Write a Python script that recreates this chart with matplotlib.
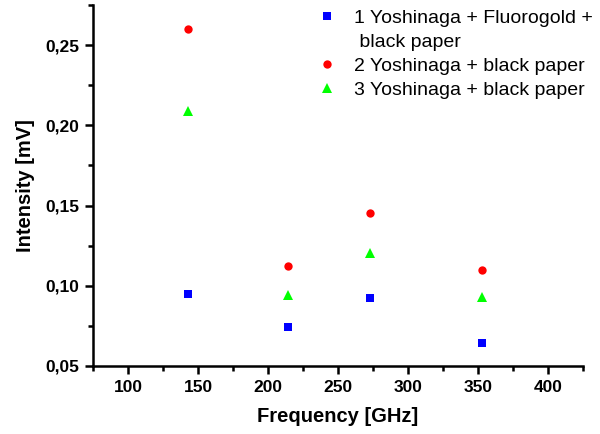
import matplotlib
matplotlib.use("Agg")
import matplotlib.pyplot as plt
from matplotlib.ticker import MultipleLocator, FuncFormatter

freq = [143, 214, 273, 353]
s1 = [0.095, 0.0743, 0.0923, 0.0643]
s2 = [0.260, 0.1122, 0.1452, 0.1101]
s3 = [0.2089, 0.0942, 0.1203, 0.0928]
labels = ["1 Yoshinaga + Fluorogold +",
          " black paper",
          "2 Yoshinaga + black paper",
          "3 Yoshinaga + black paper"]

plt.rcParams['font.family'] = ['Liberation Sans', 'DejaVu Sans']
fig = plt.figure(figsize=(6, 4.34), dpi=100)
ax = fig.add_axes([0.155, 0.157, 0.817, 0.831])

h1, = ax.plot(freq, s1, 's', color='#0000ff', ms=5.5, mew=0)
h2, = ax.plot(freq, s2, 'o', color='#ff0000', ms=6, mew=0)
h3, = ax.plot(freq, s3, '^', color='#00ff00', ms=7.5, mew=0)
hblank, = ax.plot([], [], ' ')

ax.set_xlim(75, 425)
ax.set_ylim(0.05, 0.275)
ax.xaxis.set_major_locator(MultipleLocator(50))
ax.xaxis.set_minor_locator(MultipleLocator(25))
ax.yaxis.set_major_locator(MultipleLocator(0.05))
ax.yaxis.set_minor_locator(MultipleLocator(0.025))
ax.yaxis.set_major_formatter(FuncFormatter(lambda v, p: f"{v:.2f}".replace('.', ',')))
ax.xaxis.set_major_formatter(FuncFormatter(lambda v, p: f"{v:.0f}" if v >= 100 else ""))

for s in ['top', 'right']:
    ax.spines[s].set_visible(False)
for s in ['left', 'bottom']:
    ax.spines[s].set_linewidth(1.8)
ax.tick_params(which='major', length=6, width=1.8, direction='out', labelsize=12.5, pad=4)
ax.tick_params(which='minor', length=3.5, width=1.8, direction='out')
for lbl in ax.get_xticklabels() + ax.get_yticklabels():
    lbl.set_fontweight('bold')

ax.set_xlabel("Frequency [GHz]", fontsize=14.5, fontweight='bold', labelpad=9)
ax.set_ylabel("Intensity [mV]", fontsize=14.5, fontweight='bold', labelpad=7)

leg = ax.legend([h1, hblank, h2, h3], labels,
                loc='upper left', bbox_to_anchor=(319 / 600, 1 - 9 / 434),
                bbox_transform=fig.transFigure, frameon=False,
                fontsize=14, handletextpad=1.0, labelspacing=0.33, handlelength=0.8,
                borderpad=0, borderaxespad=0)

fig.savefig("out.png", dpi=100)
